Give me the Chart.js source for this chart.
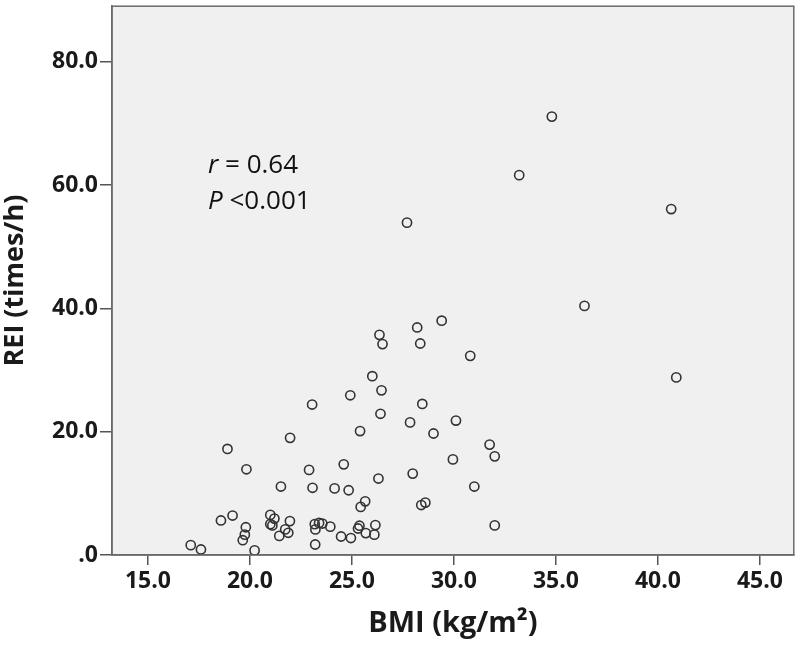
<!DOCTYPE html>
<html>
<head>
<meta charset="utf-8">
<script src="https://cdn.jsdelivr.net/npm/chart.js@4/dist/chart.umd.min.js"></script>
<style>
html,body{margin:0;padding:0;background:#fff;}
#wrap{width:800px;height:645px;}
</style>
</head>
<body>
<div id="wrap"><canvas id="c" width="800" height="645"></canvas></div>
<script>
// Data
const bmi = [34.8,33.2,40.65,27.7,36.4,29.4,28.2,26.35,26.5,28.35,30.8,40.9,26.0,26.45,24.92,23.05,28.45,26.4,27.85,30.1,25.4,29.0,21.97,18.9,31.75,32.0,29.95,24.6,19.83,22.9,27.98,26.3,21.52,23.07,24.15,24.84,31.0,25.65,25.43,28.4,28.6,19.15,18.58,21.0,21.2,21.0,21.1,21.96,19.8,19.75,19.65,21.73,21.88,21.44,23.18,23.39,23.55,23.21,23.94,23.2,24.47,24.95,25.37,25.3,26.15,25.68,26.1,32.0,17.1,17.6,20.23];
const rei = [71.1,61.6,56.1,53.9,40.4,38.0,36.9,35.7,34.2,34.3,32.3,28.8,29.0,26.7,25.9,24.4,24.5,22.9,21.5,21.8,20.1,19.7,19.0,17.2,17.9,16.0,15.5,14.7,13.9,13.8,13.2,12.4,11.1,10.9,10.8,10.5,11.1,8.7,7.8,8.1,8.5,6.4,5.6,6.5,5.9,5.0,4.8,5.5,4.5,3.3,2.4,4.15,3.6,3.1,5.0,5.2,5.1,4.15,4.6,1.7,3.0,2.75,4.75,4.3,4.85,3.55,3.3,4.8,1.6,0.9,0.75];
const xTicks = [15,20,25,30,35,40,45];
const yTicks = [0,20,40,60,80];
const xTickLabels = ['15.0','20.0','25.0','30.0','35.0','40.0','45.0'];
const yTickLabels = ['.0','20.0','40.0','60.0','80.0'];
const xTitle = 'BMI (kg/m\u00B2)';
const yTitle = 'REI (times/h)';
const annoLines = [['r',' = 0.64'],['P',' <0.001']];

const points = bmi.map((v,i)=>({x:v,y:rei[i]}));

const frame = {
  id:'frame',
  beforeDraw(chart){
    const {ctx, chartArea:a} = chart;
    ctx.save();
    ctx.fillStyle='#f0f0f0';
    ctx.fillRect(a.left,a.top,a.right-a.left,a.bottom-a.top);
    ctx.restore();
  },
  afterDraw(chart){
    const {ctx, chartArea:a} = chart;
    ctx.save();
    ctx.strokeStyle='#6a6a6a';
    ctx.lineWidth=1.5;
    ctx.strokeRect(a.left,a.top,a.right-a.left,a.bottom-a.top);
    // annotation
    ctx.fillStyle='#111';
    ctx.textBaseline='middle';
    const x0 = a.left + 96;
    const ys = [a.top+159, a.top+195];
    annoLines.forEach((ln,i)=>{
      ctx.font='italic 26px "Open Sans"';
      ctx.fillText(ln[0], x0, ys[i]);
      const w = ctx.measureText(ln[0]).width;
      ctx.font='26px "Open Sans"';
      ctx.fillText(ln[1], x0+w, ys[i]);
    });
    ctx.restore();
  }
};

new Chart(document.getElementById('c'),{
  type:'scatter',
  data:{datasets:[{
    data:points,
    pointRadius:4.6,
    pointHoverRadius:4.6,
    borderWidth:1.6,
    borderColor:'#333',
    backgroundColor:'rgba(0,0,0,0)'
  }]},
  options:{
    responsive:false,
    animation:false,
    layout:{padding:{top:5,right:4,left:0,bottom:0}},
    plugins:{legend:{display:false},tooltip:{enabled:false}},
    scales:{
      x:{
        type:'linear',
        min:13.24, max:46.66,
        afterBuildTicks(s){ s.ticks = xTicks.map(v=>({value:v})); },
        afterFit(s){ s.height = 90; s.paddingLeft = 0; s.paddingRight = 0; },
        ticks:{
          callback:(v)=>{const i=xTicks.indexOf(v);return i>=0?xTickLabels[i]:'';},
          font:{family:'"Open Sans"',size:23,weight:'bold'},
          color:'#1a1a1a',
          padding:3,
          maxRotation:0,
          autoSkip:false
        },
        grid:{drawOnChartArea:false,drawTicks:true,tickLength:10,color:'#555',lineWidth:1.5},
        border:{display:true,color:'#6a6a6a',width:1.5},
        title:{display:true,text:xTitle,font:{family:'"Open Sans"',size:29,weight:'bold'},color:'#1a1a1a',padding:{top:0,bottom:4}}
      },
      y:{
        type:'linear',
        min:0, max:89,
        afterBuildTicks(s){ s.ticks = yTicks.map(v=>({value:v})); },
        afterFit(s){ s.width = 112; s.paddingTop = 0; s.paddingBottom = 0; },
        ticks:{
          callback:(v)=>{const i=yTicks.indexOf(v);return i>=0?yTickLabels[i]:'';},
          font:{family:'"Open Sans"',size:23,weight:'bold'},
          color:'#1a1a1a',
          padding:2,
          autoSkip:false
        },
        grid:{drawOnChartArea:false,drawTicks:true,tickLength:12,color:'#555',lineWidth:1.5},
        border:{display:true,color:'#6a6a6a',width:1.5},
        title:{display:true,text:yTitle,font:{family:'"Open Sans"',size:27,weight:'bold',lineHeight:1.1},color:'#1a1a1a',padding:{top:0,bottom:0}}
      }
    }
  },
  plugins:[frame]
});
</script>
</body>
</html>
